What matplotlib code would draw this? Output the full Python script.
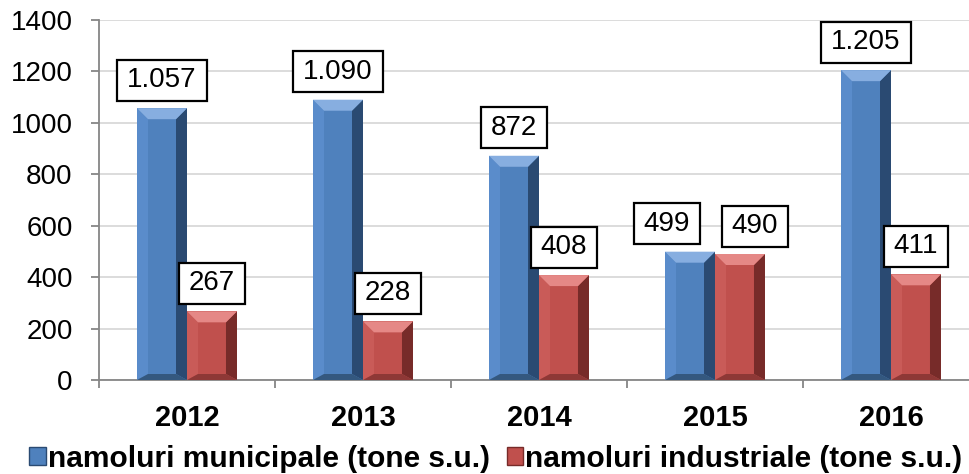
import matplotlib
matplotlib.use("Agg")
import matplotlib.pyplot as plt
from matplotlib.patches import Polygon, Patch
from matplotlib.path import Path
import numpy as np

# data
years = ["2012", "2013", "2014", "2015", "2016"]
municipale = [1057, 1090, 872, 499, 1205]
industriale = [267, 228, 408, 490, 411]
series_names = ["namoluri municipale (tone s.u.)", "namoluri industriale (tone s.u.)"]

plt.rcParams["font.family"] = ["Liberation Sans", "DejaVu Sans"]

W, H = 969, 474
fig = plt.figure(figsize=(W / 100, H / 100), dpi=100)
ax_px = (99, 94, 880, 360)  # left, bottom, width, height in pixels
ax = fig.add_axes([ax_px[0] / W, ax_px[1] / H, ax_px[2] / W, ax_px[3] / H])

x = np.arange(len(years))
bw = 0.284
ax.set_xlim(-0.5, len(years) - 0.5)
ax.set_ylim(0, 1400)

# colours: face, left, top, right, bottom
blue = ["#4F81BD", "#5A8CCB", "#87AEE0", "#2A4A72", "#34587F"]
red = ["#C0504D", "#C95B58", "#E58886", "#772B29", "#8E3836"]

b1 = ax.bar(x - bw / 2, municipale, bw, color=blue[0], zorder=2)
b2 = ax.bar(x + bw / 2, industriale, bw, color=red[0], zorder=2)

# bevel sizes in data units from pixel sizes
dx_px = 5 / ax_px[2]
dy_px = 1400 / ax_px[3]
bev_x = 11 * dx_px
bev_top = 11 * dy_px
bev_bot = 6 * dy_px


def bevel(rect, cols):
    x0 = rect.get_x()
    x1 = x0 + rect.get_width()
    h = rect.get_height()
    bx = min(bev_x, rect.get_width() / 2)
    bt = min(bev_top, h / 2)
    bb = min(bev_bot, h / 2)
    polys = [
        ([(x0, 0), (x0 + bx, bb), (x0 + bx, h - bt), (x0, h)], cols[1]),
        ([(x1, 0), (x1, h), (x1 - bx, h - bt), (x1 - bx, bb)], cols[3]),
        ([(x0, 0), (x1, 0), (x1 - bx, bb), (x0 + bx, bb)], cols[4]),
        ([(x0, h), (x1, h), (x1 - bx, h - bt), (x0 + bx, h - bt)], cols[2]),
    ]
    for pts, c in polys:
        ax.add_patch(Polygon(pts, closed=True, facecolor=c, edgecolor="none", zorder=3))


for r in b1:
    bevel(r, blue)
for r in b2:
    bevel(r, red)


def wide_box(x0, y0, width, height, mutation_size):
    px = 0.36 * mutation_size
    py = 0.27 * mutation_size
    xa, ya = x0 - px, y0 - py
    xb, yb = x0 + width + px, y0 + height + py
    return Path([(xa, ya), (xb, ya), (xb, yb), (xa, yb), (xa, ya)],
                [Path.MOVETO, Path.LINETO, Path.LINETO, Path.LINETO, Path.CLOSEPOLY])


def fmt(v):
    return f"{v:,}".replace(",", ".")


# label nudges (pixels) for the 2015 pair, which would overlap
nudge_m = [0, 0, 0, -23, 0]
nudge_i = [0, 0, 0, 15, 0]

for bars, vals, nudges in ((b1, municipale, nudge_m), (b2, industriale, nudge_i)):
    for r, v, nd in zip(bars, vals, nudges):
        ax.annotate(fmt(v), (r.get_x() + r.get_width() / 2, v),
                    xytext=(nd, 15), textcoords="offset pixels",
                    ha="center", va="bottom", fontsize=20, zorder=5,
                    bbox=dict(boxstyle=wide_box, facecolor="white",
                              edgecolor="black", linewidth=1.6))

# axes styling
ax.set_yticks(np.arange(0, 1401, 200))
ax.yaxis.grid(True, color="#D9D9D9", linewidth=1.3)
ax.set_axisbelow(True)
for s in ("top", "right"):
    ax.spines[s].set_visible(False)
for s in ("left", "bottom"):
    ax.spines[s].set_color("#868686")
    ax.spines[s].set_linewidth(1.3)
ax.tick_params(axis="y", length=6, width=1.3, color="#868686", pad=13, labelsize=20)

ax.set_xticks(x)
ax.set_xticklabels(years, fontsize=21, fontweight="bold")
ax.tick_params(axis="x", which="major", length=0, pad=17)
ax.set_xticks(np.arange(-0.5, len(years), 1), minor=True)
ax.tick_params(axis="x", which="minor", length=6, width=1.3, color="#868686")

handles = [Patch(facecolor=blue[0], edgecolor=blue[3]),
           Patch(facecolor=red[0], edgecolor=red[3])]
fig.legend(handles, series_names, loc="center", bbox_to_anchor=(496 / W, 1 - 459 / H),
           ncol=2, frameon=False, prop=dict(size=21.5, weight="bold"),
           handlelength=0.55, handleheight=0.55, handletextpad=0.08,
           columnspacing=0.55, borderaxespad=0, borderpad=0)

fig.savefig("out.png", dpi=100)
